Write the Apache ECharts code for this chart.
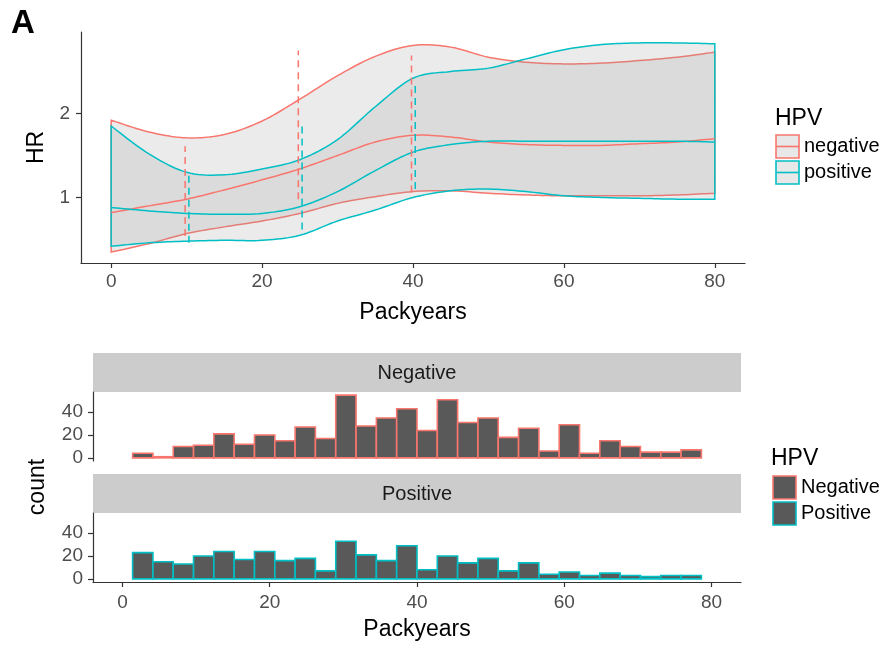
<!DOCTYPE html>
<html>
<head>
<meta charset="utf-8">
<script src="https://cdn.jsdelivr.net/npm/echarts@6/dist/echarts.min.js"></script>
<style>
  html, body { margin: 0; padding: 0; background: #fff; }
  #chart { width: 886px; height: 651px; }
</style>
</head>
<body>
<div id="chart"></div>
<script>
// HR curves, read at every 5 packyears
const packX = [0, 5, 10, 15, 20, 25, 30, 35, 40, 45, 50, 55, 60, 65, 70, 75, 80];
const negUpper = [1.92, 1.78, 1.71, 1.75, 1.91, 2.17, 2.45, 2.68, 2.81, 2.79, 2.67, 2.61, 2.59, 2.60, 2.63, 2.67, 2.73];
const negMid   = [0.82, 0.90, 0.98, 1.09, 1.21, 1.34, 1.50, 1.66, 1.74, 1.72, 1.66, 1.63, 1.62, 1.62, 1.64, 1.66, 1.70];
const negLower = [0.35, 0.45, 0.57, 0.65, 0.72, 0.81, 0.93, 1.01, 1.07, 1.08, 1.05, 1.03, 1.02, 1.02, 1.02, 1.03, 1.05];
const posUpper = [1.85, 1.52, 1.30, 1.27, 1.34, 1.45, 1.69, 2.08, 2.42, 2.50, 2.54, 2.65, 2.76, 2.82, 2.84, 2.84, 2.83];
const posMid   = [0.88, 0.84, 0.81, 0.80, 0.81, 0.89, 1.07, 1.32, 1.54, 1.63, 1.67, 1.67, 1.67, 1.67, 1.67, 1.67, 1.66];
const posLower = [0.42, 0.46, 0.48, 0.49, 0.49, 0.55, 0.72, 0.85, 1.00, 1.08, 1.10, 1.07, 1.02, 1.00, 0.99, 0.98, 0.98];

// dashed confidence intervals
const negCiX = [9.8, 24.8, 39.8];
const negCiLow = [0.54, 0.98, 1.06];
const negCiHigh = [1.61, 2.75, 2.69];
const posCiX = [10.3, 25.3, 40.3];
const posCiLow = [0.46, 0.62, 1.10];
const posCiHigh = [1.27, 1.85, 2.35];

// histogram (packyears), 28 bins
const binStart = 1.379;
const binWidth = 2.7586;
const negCounts = [4, 1, 10, 11, 21, 12, 20, 15, 27, 17, 55, 28, 35, 43, 24, 51, 31, 35, 18, 26, 6, 29, 4, 15, 10, 5, 5, 7];
const posCounts = [23, 15, 13, 20, 24, 17, 24, 16, 18, 7, 33, 21, 16, 29, 8, 20, 14, 18, 7, 14, 4, 6, 3, 5, 3, 2, 3, 3];

const xTicks = [0, 20, 40, 60, 80];
const hrTicks = [1, 2];
const countTicks = [0, 20, 40];

const RED = '#F8766D';
const CYAN = '#00BFC4';
const FONT = 'Liberation Sans';

// Catmull-Rom through pixel points, only for drawing smooth curves
function smoothPts(pts) {
  const out = [];
  const n = pts.length;
  const steps = 10;
  for (let i = 0; i < n - 1; i++) {
    const p0 = pts[Math.max(i - 1, 0)];
    const p1 = pts[i];
    const p2 = pts[i + 1];
    const p3 = pts[Math.min(i + 2, n - 1)];
    for (let s = 0; s < steps; s++) {
      const t = s / steps, t2 = t * t, t3 = t2 * t;
      const f = k => 0.5 * (2 * p1[k] + (p2[k] - p0[k]) * t +
        (2 * p0[k] - 5 * p1[k] + 4 * p2[k] - p3[k]) * t2 +
        (3 * p1[k] - p0[k] - 3 * p2[k] + p3[k]) * t3);
      out.push([f(0), f(1)]);
    }
  }
  out.push(pts[n - 1]);
  return out;
}

function bandSeries(lower, upper, mid, color) {
  return {
    type: 'custom', xAxisIndex: 0, yAxisIndex: 0, silent: true,
    data: packX.map((x, i) => [x, lower[i], upper[i], mid[i]]),
    encode: { x: 0, y: [1, 2, 3] },
    renderItem: function (params, api) {
      if (params.dataIndex !== 0) return null;
      const lo = smoothPts(packX.map((x, i) => api.coord([x, lower[i]])));
      const up = smoothPts(packX.map((x, i) => api.coord([x, upper[i]])));
      const lineStyle = { stroke: color, lineWidth: 1.5, fill: null };
      return {
        type: 'group',
        children: [
          { type: 'polygon', shape: { points: up.concat(lo.slice().reverse()) },
            style: { fill: 'rgba(153,153,153,0.2)', stroke: color, lineWidth: 1.5 } }
        ]
      };
    }
  };
}

function curveSeries(ys, color) {
  return {
    type: 'custom', xAxisIndex: 0, yAxisIndex: 0, silent: true,
    data: packX.map((x, i) => [x, ys[i]]),
    encode: { x: 0, y: 1 },
    renderItem: function (params, api) {
      if (params.dataIndex !== 0) return null;
      const pts = smoothPts(packX.map((x, i) => api.coord([x, ys[i]])));
      return { type: 'polyline', shape: { points: pts }, style: { stroke: color, lineWidth: 1.5, fill: null } };
    }
  };
}

function ciSeries(xs, lows, highs, color) {
  return {
    type: 'custom', xAxisIndex: 0, yAxisIndex: 0, silent: true,
    data: xs.map((x, i) => [x, lows[i], highs[i]]),
    encode: { x: 0, y: [1, 2] },
    renderItem: function (params, api) {
      const a = api.coord([api.value(0), api.value(1)]);
      const b = api.coord([api.value(0), api.value(2)]);
      return {
        type: 'line', shape: { x1: a[0], y1: a[1], x2: b[0], y2: b[1] },
        style: { stroke: color, lineWidth: 1.5, lineDash: [7, 5] }
      };
    }
  };
}

function histData(counts) {
  return counts.map((c, i) => [binStart + i * binWidth, binStart + (i + 1) * binWidth, c]);
}

function histSeries(counts, color, axisIdx) {
  return {
    type: 'custom', xAxisIndex: axisIdx, yAxisIndex: axisIdx, silent: true,
    data: histData(counts),
    encode: { x: [0, 1], y: 2 },
    renderItem: function (params, api) {
      const p0 = api.coord([api.value(0), api.value(2)]);
      const p1 = api.coord([api.value(1), 0]);
      return {
        type: 'rect',
        shape: { x: p0[0], y: p0[1], width: p1[0] - p0[0], height: p1[1] - p0[1] },
        style: { fill: '#595959', stroke: color, lineWidth: 1.6 }
      };
    }
  };
}

const axisLineStyle = { show: true, onZero: false, lineStyle: { color: '#333', width: 1.2 } };
const tickStyle = { show: true, length: 5, lineStyle: { color: '#333', width: 1.2 } };
const labelStyle = { fontSize: 19, color: '#4d4d4d', fontFamily: FONT };
const nameStyle = { fontSize: 23, color: '#000', fontFamily: FONT };

function xAxisDef(grid, show, name, gap, margin) {
  return {
    type: 'value', gridIndex: grid, min: -4, max: 84,
    axisLine: show ? axisLineStyle : { show: false },
    axisTick: show ? Object.assign({ customValues: xTicks }, tickStyle) : { show: false },
    axisLabel: show ? Object.assign({ customValues: xTicks, margin: margin }, labelStyle) : { show: false },
    splitLine: { show: false },
    name: name, nameLocation: 'middle', nameGap: gap, nameTextStyle: nameStyle
  };
}

function countAxis(grid) {
  return {
    type: 'value', gridIndex: grid, min: -2.75, max: 57.75,
    axisLine: axisLineStyle,
    axisTick: Object.assign({ customValues: countTicks }, tickStyle),
    axisLabel: Object.assign({ customValues: countTicks, margin: 10 }, labelStyle),
    splitLine: { show: false }
  };
}

function legendKey(x, y, color, fill, midLine) {
  const items = [{
    type: 'rect', shape: { x: x, y: y, width: 23, height: 23 },
    style: { fill: fill, stroke: color, lineWidth: 1.6 }
  }];
  if (midLine) {
    items.push({
      type: 'line', shape: { x1: x, y1: y + 11.5, x2: x + 23, y2: y + 11.5 },
      style: { stroke: color, lineWidth: 1.6 }
    });
  }
  return items;
}

function label(text, x, y, size, opts) {
  return Object.assign({
    type: 'text', x: x, y: y,
    style: Object.assign({
      text: text, fontSize: size, fontFamily: FONT, fill: '#000',
      verticalAlign: 'middle', align: 'left'
    }, (opts && opts.style) || {})
  }, (opts && opts.el) || {});
}

const graphics = [
  label('A', 11, 24, 33, { style: { fontWeight: 'bold' } }),
  // top legend
  label('HPV', 775, 119, 23),
  ...legendKey(776, 135, RED, '#e8e8e8', true),
  ...legendKey(776, 161, CYAN, '#e8e8e8', true),
  label('negative', 804, 146, 20),
  label('positive', 804, 172, 20),
  // facet strips
  { type: 'rect', shape: { x: 93, y: 353, width: 648, height: 39 }, style: { fill: '#cccccc' } },
  { type: 'rect', shape: { x: 93, y: 474, width: 648, height: 39 }, style: { fill: '#cccccc' } },
  label('Negative', 417, 373, 20, { style: { align: 'center', fill: '#1a1a1a' } }),
  label('Positive', 417, 494, 20, { style: { align: 'center', fill: '#1a1a1a' } }),
  label('count', 38, 487, 23, { style: { align: 'center' }, el: { rotation: Math.PI / 2 } }),
  // bottom legend
  label('HPV', 771, 459, 23),
  ...legendKey(773, 476, RED, '#595959', false),
  ...legendKey(773, 502, CYAN, '#595959', false),
  label('Negative', 801, 487, 20),
  label('Positive', 801, 513, 20)
];

const chart = echarts.init(document.getElementById('chart'), null, { renderer: 'canvas' });

chart.setOption({
  backgroundColor: '#ffffff',
  animation: false,
  grid: [
    { left: 81, right: 141, top: 32, bottom: 388 },
    { left: 93, right: 145, top: 392, height: 69 },
    { left: 93, right: 145, top: 513, height: 69 }
  ],
  xAxis: [
    xAxisDef(0, true, 'Packyears', 38, 9),
    xAxisDef(1, false, '', 0, 0),
    xAxisDef(2, true, 'Packyears', 36, 11)
  ],
  yAxis: [
    {
      type: 'value', gridIndex: 0, min: 0.22, max: 2.97,
      axisLine: axisLineStyle,
      axisTick: Object.assign({ customValues: hrTicks }, tickStyle),
      axisLabel: Object.assign({ customValues: hrTicks, margin: 11 }, labelStyle),
      splitLine: { show: false },
      name: 'HR', nameLocation: 'middle', nameGap: 32, nameTextStyle: nameStyle
    },
    countAxis(1),
    countAxis(2)
  ],
  graphic: graphics,
  series: [
    bandSeries(negLower, negUpper, negMid, RED),
    bandSeries(posLower, posUpper, posMid, CYAN),
    curveSeries(negMid, RED),
    curveSeries(posMid, CYAN),
    ciSeries(negCiX, negCiLow, negCiHigh, RED),
    ciSeries(posCiX, posCiLow, posCiHigh, CYAN),
    histSeries(negCounts, RED, 1),
    histSeries(posCounts, CYAN, 2)
  ]
});
</script>
</body>
</html>
